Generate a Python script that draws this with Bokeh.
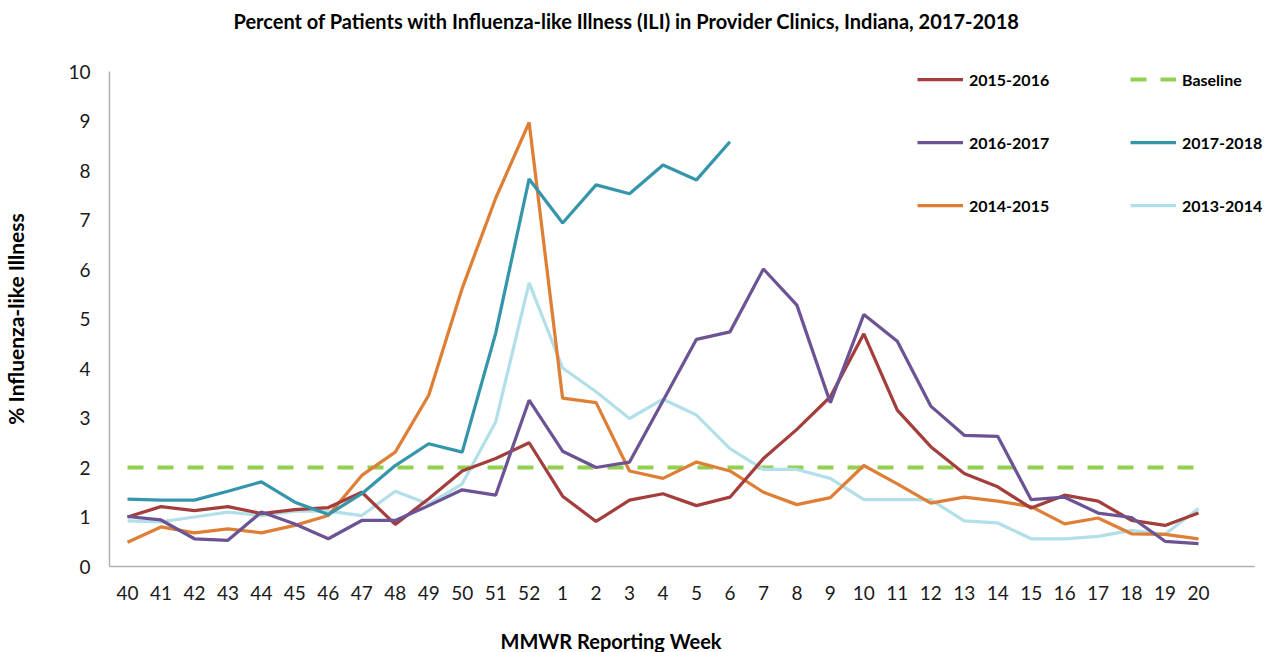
from bokeh.plotting import figure
from bokeh.models import Legend, LegendItem, Label, FixedTicker
from bokeh.layouts import column
from bokeh.embed import file_html
from bokeh.resources import INLINE

weeks = ["40", "41", "42", "43", "44", "45", "46", "47", "48", "49", "50", "51", "52",
         "1", "2", "3", "4", "5", "6", "7", "8", "9", "10", "11", "12", "13", "14",
         "15", "16", "17", "18", "19", "20"]

s2015_2016 = [1.00, 1.21, 1.13, 1.21, 1.07, 1.15, 1.19, 1.50, 0.85, 1.37, 1.93, 2.18, 2.50,
              1.42, 0.91, 1.34, 1.47, 1.23, 1.40, 2.18, 2.77, 3.43, 4.70, 3.16, 2.42, 1.88, 1.61,
              1.18, 1.44, 1.32, 0.93, 0.83, 1.08]
s2016_2017 = [1.01, 0.94, 0.56, 0.53, 1.10, 0.86, 0.56, 0.93, 0.93, 1.23, 1.55, 1.44, 3.36,
              2.33, 2.00, 2.11, 3.35, 4.59, 4.74, 6.01, 5.28, 3.31, 5.09, 4.55, 3.24, 2.65, 2.63,
              1.35, 1.40, 1.08, 0.99, 0.51, 0.46]
s2014_2015 = [0.49, 0.80, 0.68, 0.76, 0.68, 0.83, 1.03, 1.84, 2.31, 3.46, 5.62, 7.44, 8.97,
              3.40, 3.31, 1.93, 1.78, 2.11, 1.93, 1.50, 1.25, 1.39, 2.04, 1.67, 1.28, 1.40, 1.32,
              1.21, 0.86, 0.98, 0.66, 0.65, 0.56]
s2017_2018 = [1.36, 1.34, 1.34, 1.52, 1.71, 1.30, 1.05, 1.47, 2.04, 2.48, 2.31, 4.71, 7.83,
              6.94, 7.71, 7.53, 8.11, 7.81, 8.58]
s2013_2014 = [0.92, 0.90, 1.00, 1.10, 1.03, 1.12, 1.12, 1.03, 1.52, 1.26, 1.67, 2.92, 5.73,
              4.01, 3.53, 2.99, 3.38, 3.06, 2.38, 1.96, 1.96, 1.78, 1.35, 1.35, 1.35, 0.92, 0.88,
              0.56, 0.56, 0.61, 0.73, 0.65, 1.17]
baseline = [2.0] * len(weeks)

y_ticks = [0, 1, 2, 3, 4, 5, 6, 7, 8, 9, 10]

TITLE = "Percent of Patients with Influenza-like Illness (ILI) in Provider Clinics, Indiana, 2017-2018"
XLABEL = "MMWR Reporting Week"
YLABEL = "% Influenza-like Illness"

FONT = "Lato"
W = 1277
xs = list(range(len(weeks)))


def text_strip(height, text, x, y):
    f = figure(width=W, height=height, output_backend="svg", toolbar_location=None,
               x_axis_type=None, y_axis_type=None, x_range=(0, 1), y_range=(0, 1),
               min_border=0, min_border_left=0, min_border_right=0,
               min_border_top=0, min_border_bottom=0)
    f.outline_line_color = None
    f.grid.visible = False
    f.add_layout(Label(x=x, y=y, x_units="screen", y_units="screen", text=text,
                       text_font=FONT, text_font_style="bold", text_font_size="20px",
                       text_align="left", text_baseline="middle", text_color="#000000"))
    return f


# the column aligns the strips' frames with the chart frame (left edge at 109 px)
top = text_strip(56, TITLE, 124, 36)
bottom = text_strip(50, XLABEL, 391, 12)

p = figure(width=W, height=546, output_backend="svg", toolbar_location=None,
           x_range=(-0.538, 34.36), y_range=(0, 10),
           min_border_left=109, min_border_right=0, min_border_top=15, min_border_bottom=36)
p.outline_line_color = None
p.xgrid.visible = False
p.ygrid.visible = False
p.background_fill_color = "white"
p.border_fill_color = "white"

LW = 3.25
r_base = p.line(xs, baseline, line_color="#92D050", line_width=4, line_dash="16 14")
r_1314 = p.line(xs, s2013_2014, line_color="#B3DFE8", line_width=LW)
r_1415 = p.line(xs, s2014_2015, line_color="#DF7E35", line_width=LW)
r_1516 = p.line(xs, s2015_2016, line_color="#A43E3C", line_width=LW)
r_1617 = p.line(xs, s2016_2017, line_color="#6C5394", line_width=LW)
r_1718 = p.line(xs[:len(s2017_2018)], s2017_2018, line_color="#3595AA", line_width=LW)

# axes
p.xaxis.ticker = FixedTicker(ticks=xs)
p.xaxis.major_label_overrides = {i: w for i, w in enumerate(weeks)}
p.xaxis.bounds = (-0.538, 33.67)
p.yaxis.ticker = FixedTicker(ticks=y_ticks)
for ax in (p.xaxis[0], p.yaxis[0]):
    ax.major_tick_line_color = None
    ax.minor_tick_line_color = None
    ax.major_label_text_font = FONT
    ax.major_label_text_font_size = "19px"
    ax.major_label_text_color = "#1a1a1a"
    ax.axis_line_color = "#b0b0b0"
    ax.axis_line_width = 1.5
p.xaxis.major_label_standoff = 13
p.yaxis.major_label_standoff = 13

p.yaxis.axis_label = YLABEL
p.yaxis.axis_label_text_font = FONT
p.yaxis.axis_label_text_font_style = "bold"
p.yaxis.axis_label_text_font_size = "21px"
p.yaxis.axis_label_text_color = "#000000"
p.yaxis.axis_label_standoff = 37


def make_legend(items, x):
    return Legend(items=items, location=(x, 351), orientation="vertical",
                  padding=0, margin=0, spacing=43, glyph_width=46, glyph_height=20,
                  label_height=20, label_standoff=6,
                  label_text_font=FONT, label_text_font_style="bold",
                  label_text_font_size="16px", label_text_color="#000000",
                  border_line_color=None, background_fill_alpha=0)


leg1 = make_legend([LegendItem(label="2015-2016", renderers=[r_1516]),
                    LegendItem(label="2016-2017", renderers=[r_1617]),
                    LegendItem(label="2014-2015", renderers=[r_1415])], 808)
leg2 = make_legend([LegendItem(label="Baseline", renderers=[r_base]),
                    LegendItem(label="2017-2018", renderers=[r_1718]),
                    LegendItem(label="2013-2014", renderers=[r_1314])], 1021)
p.add_layout(leg1)
p.add_layout(leg2)

layout = column(top, p, bottom, spacing=0)
open("out.html", "w").write(file_html(layout, INLINE))
